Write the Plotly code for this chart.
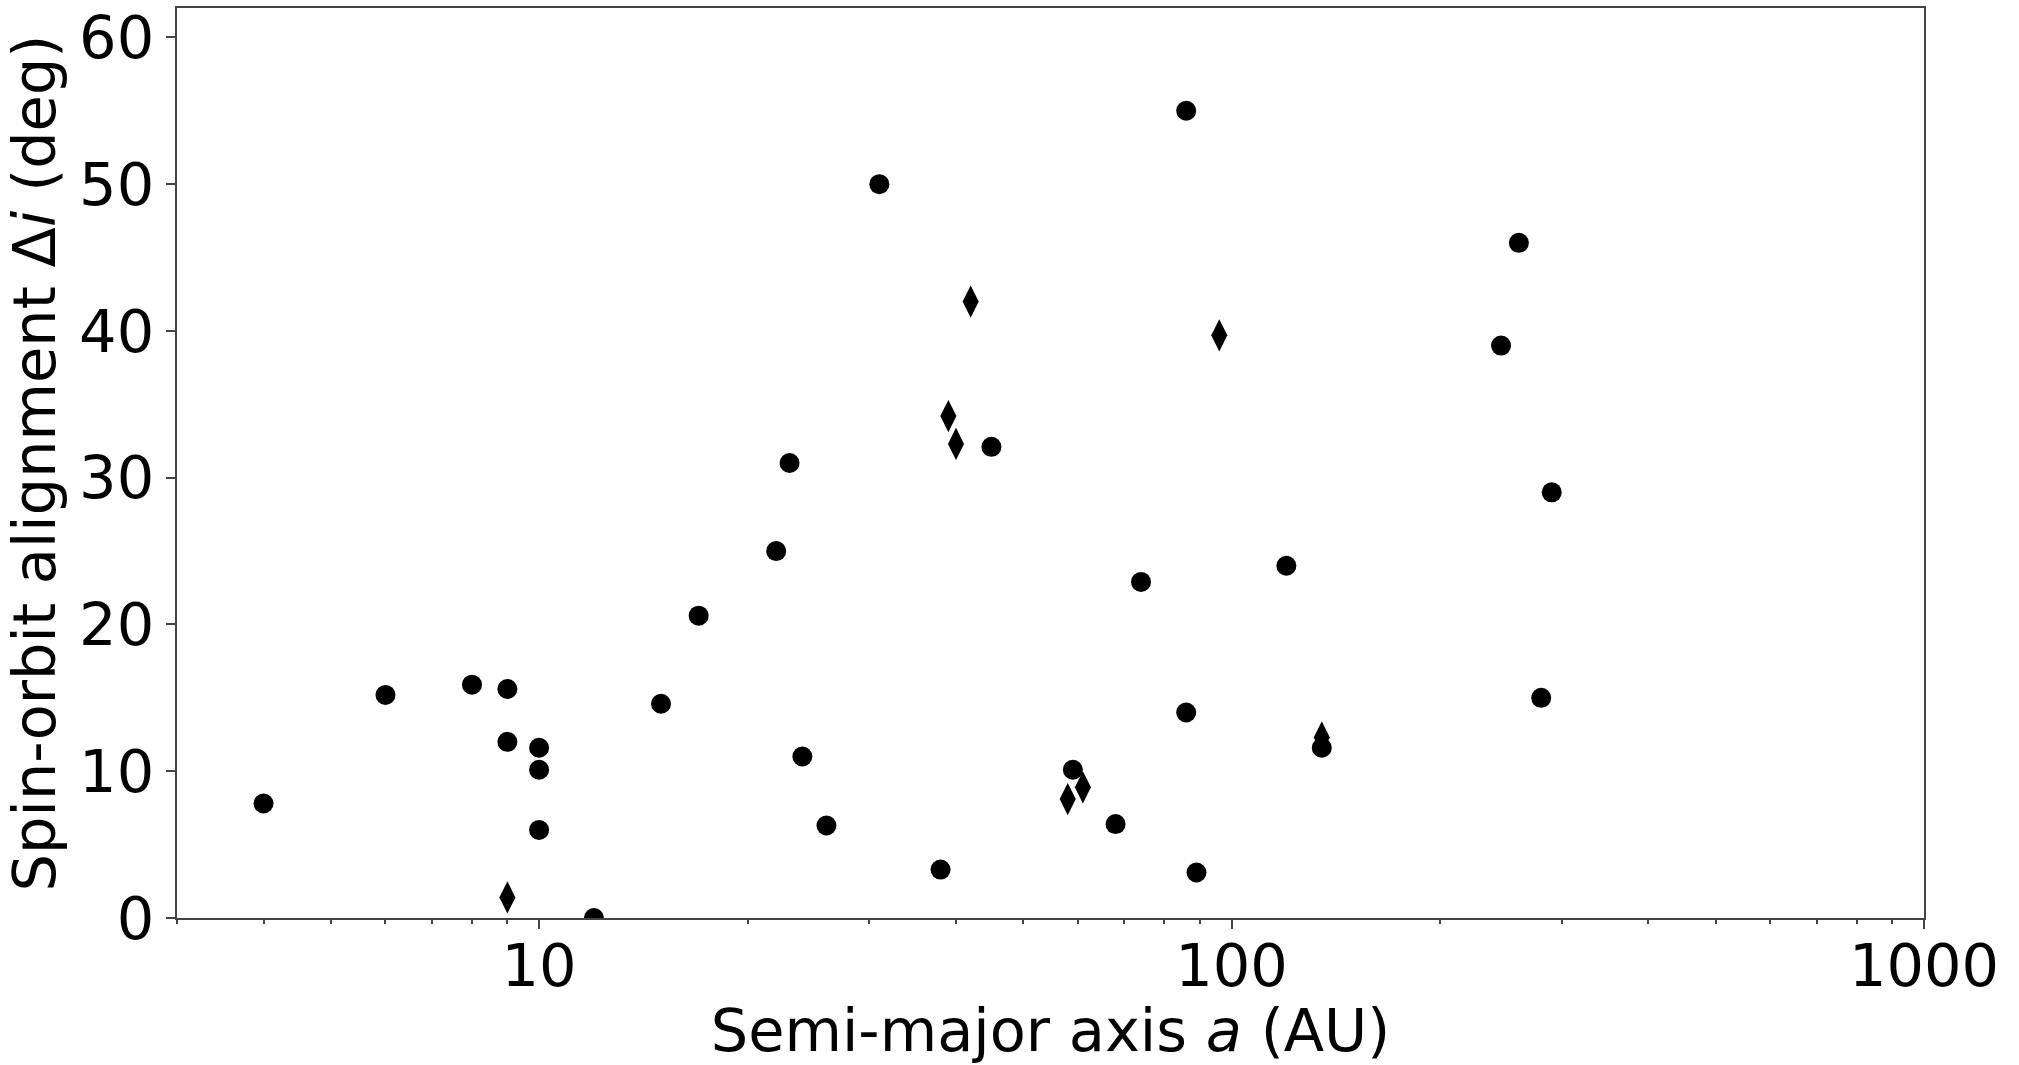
import plotly.graph_objects as go

# Data
circle_a = [4, 6, 8, 9, 9, 10, 10, 10, 12, 15, 17, 22, 23, 24, 26, 31, 38, 45,
            59, 68, 74, 86, 86, 89, 120, 135, 245, 260, 280, 290]
circle_di = [7.8, 15.2, 15.9, 15.6, 12.0, 11.6, 10.1, 6.0, 0.0, 14.6, 20.6, 25.0,
             31.0, 11.0, 6.3, 50.0, 3.3, 32.1, 10.1, 6.4, 22.9, 55.0, 14.0, 3.1,
             24.0, 11.6, 39.0, 46.0, 15.0, 29.0]
diamond_a = [9, 39, 40, 42, 58, 61, 96, 135]
diamond_di = [1.4, 34.2, 32.3, 42.0, 8.1, 8.9, 39.7, 12.3]

x_ticks = [10, 100, 1000]
x_ticklabels = ["10", "100", "1000"]
x_minor_ticks = [3, 4, 5, 6, 7, 8, 9, 20, 30, 40, 50, 60, 70, 80, 90,
                 200, 300, 400, 500, 600, 700, 800, 900]
y_ticks = [0, 10, 20, 30, 40, 50, 60]

FONT = "DejaVu Sans"
FS = 59
LC = "#444"
fig = go.Figure()
fig.add_trace(go.Scatter(x=diamond_a, y=diamond_di, mode="markers",
                         marker=dict(symbol="diamond-tall", size=23, color="black",
                                     line=dict(width=0)),
                         showlegend=False))
fig.add_trace(go.Scatter(x=circle_a, y=circle_di, mode="markers",
                         marker=dict(symbol="circle", size=20, color="black",
                                     line=dict(width=0)),
                         showlegend=False))

axis_common = dict(showline=True, linecolor=LC, linewidth=2, mirror=True,
                   showgrid=False, zeroline=False, ticks="outside", ticklen=9,
                   tickwidth=2, tickcolor=LC, automargin=False,
                   tickfont=dict(family=FONT, size=FS, color="black"))

xrange = [0.4771, 3]
fig.update_layout(
    xaxis=dict(type="log", range=xrange, tickvals=x_ticks, ticktext=x_ticklabels,
               ticklabelstandoff=-14,
               title=dict(text="Semi-major axis <i>a</i> (AU)",
                          font=dict(family=FONT, size=FS, color="black"), standoff=20),
               **axis_common),
    xaxis2=dict(type="log", range=xrange, overlaying="x", side="bottom",
                anchor="y", tickvals=x_minor_ticks, showticklabels=False,
                ticks="outside", ticklen=5, tickwidth=1.5, tickcolor=LC,
                showgrid=False, zeroline=False, showline=False, automargin=False),
    yaxis=dict(range=[0, 62], tickvals=y_ticks,
               title=dict(text="Spin-orbit alignment Δ<i>i</i> (deg)",
                          font=dict(family=FONT, size=FS, color="black"), standoff=10),
               **axis_common),
)
# invisible trace to activate the minor-tick axis
fig.add_trace(go.Scatter(x=[10], y=[0], xaxis="x2", yaxis="y", mode="markers",
                         marker=dict(opacity=0), showlegend=False, hoverinfo="skip"))

fig.update_layout(width=2019, height=1065, paper_bgcolor="white", plot_bgcolor="white",
                  margin=dict(l=177, r=95, t=8, b=147))
fig.write_html("out.html")
